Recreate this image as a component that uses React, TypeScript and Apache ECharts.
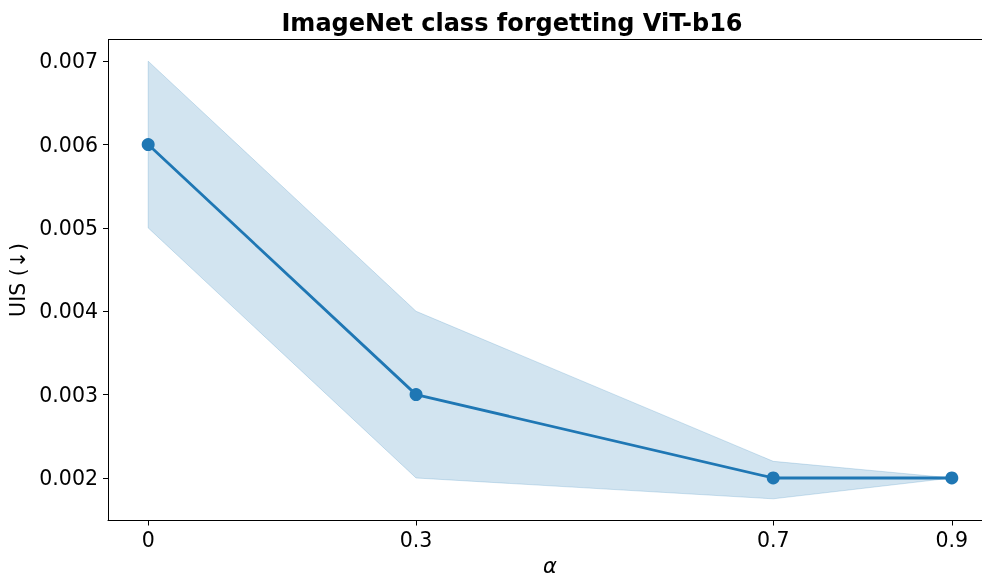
import React, { useEffect, useRef } from "react";
import * as echarts from "echarts";

const alphas = [0, 0.3, 0.7, 0.9];
const uisMean = [0.006, 0.003, 0.002, 0.002];
const uisLower = [0.005, 0.002, 0.00175, 0.002];
const uisUpper = [0.007, 0.004, 0.0022, 0.002];
const xTicks = [0, 0.3, 0.7, 0.9];
const yTicks = [0.002, 0.003, 0.004, 0.005, 0.006, 0.007];

const FONT = "DejaVu Sans";

export default function App() {
  const ref = useRef<HTMLDivElement>(null);
  useEffect(() => {
    document.body.style.margin = "0";
    const chart = echarts.init(ref.current!, null, { renderer: "svg" });
    const bandPoints = () => {
      const pts: number[][] = [];
      alphas.forEach((a, i) => pts.push([a, uisUpper[i]]));
      for (let i = alphas.length - 1; i >= 0; i--) pts.push([alphas[i], uisLower[i]]);
      return pts;
    };
    chart.setOption({
      animation: false,
      title: {
        text: "ImageNet class forgetting ViT-b16",
        left: 507,
        textAlign: "center",
        top: 6,
        textStyle: { fontFamily: FONT, fontWeight: "bold", fontSize: 24, color: "#000" },
      },
      grid: { left: 108, top: 39.5, width: 884, height: 481, outerBoundsMode: "none", containLabel: false },
      xAxis: {
        type: "value",
        min: -0.045,
        max: 0.945,
        name: "α",
        nameLocation: "middle",
        nameGap: 31,
        nameTextStyle: { fontFamily: FONT, fontStyle: "italic", fontSize: 21, lineHeight: 22, color: "#000" },
        axisLine: { show: true, onZero: false, lineStyle: { color: "#000", width: 1 } },
        axisTick: { show: true, length: 5, customValues: xTicks, lineStyle: { color: "#000" } },
        axisLabel: {
          customValues: xTicks,
          margin: 9,
          fontFamily: FONT,
          fontSize: 20.5,
          color: "#000",
          formatter: (v: number) => String(v),
        },
        splitLine: { show: false },
      },
      yAxis: {
        type: "value",
        min: 0.00149,
        max: 0.00726,
        name: "UIS (↓)",
        nameLocation: "middle",
        nameGap: 77,
        nameRotate: 90,
        nameTextStyle: { fontFamily: FONT, fontSize: 20.5, color: "#000" },
        axisLine: { show: true, onZero: false, lineStyle: { color: "#000", width: 1 } },
        axisTick: { show: true, length: 5, customValues: yTicks, lineStyle: { color: "#000" } },
        axisLabel: {
          customValues: yTicks,
          margin: 10,
          fontFamily: FONT,
          fontSize: 20.5,
          color: "#000",
          formatter: (v: number) => v.toFixed(3),
        },
        splitLine: { show: false },
      },
      graphic: [
        {
          type: "line",
          shape: { x1: 108, y1: 39.5, x2: 982, y2: 39.5 },
          style: { stroke: "#000", lineWidth: 1 },
        },
      ],
      series: [
        {
          type: "custom",
          data: [[alphas[0], uisMean[0]]],
          renderItem: (params: any, api: any) => {
            const pts = bandPoints().map((p) => api.coord(p));
            return {
              type: "polygon",
              shape: { points: pts },
              style: {
                fill: "rgba(31,119,180,0.2)",
                stroke: "rgba(31,119,180,0.2)",
                lineWidth: 1,
              },
            };
          },
          silent: true,
          z: 1,
        },
        {
          type: "line",
          data: alphas.map((a, i) => [a, uisMean[i]]),
          symbol: "circle",
          symbolSize: 13,
          lineStyle: { color: "#1f77b4", width: 2.8 },
          itemStyle: { color: "#1f77b4" },
          z: 3,
        },
      ],
    });
    return () => chart.dispose();
  }, []);
  return <div ref={ref} style={{ position: "fixed", left: 0, top: 0, width: 982, height: 575 }} />;
}
